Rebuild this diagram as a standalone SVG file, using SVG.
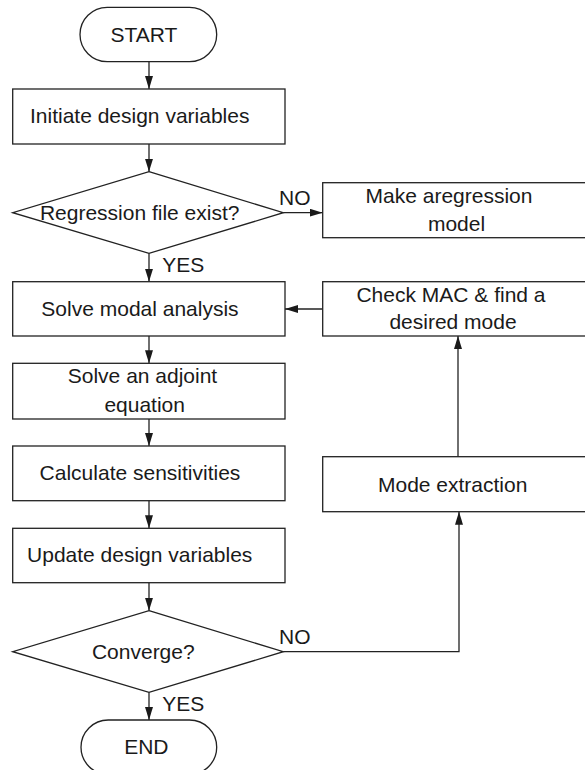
<svg xmlns="http://www.w3.org/2000/svg" width="585" height="770" viewBox="0 0 585 770">
<style>
.s{fill:#fff;stroke:#222;stroke-width:1.3}
.t{font-family:"Liberation Sans",Arial,sans-serif;font-size:21px;fill:#1a1a1a;text-anchor:middle}
.l{font-family:"Liberation Sans",Arial,sans-serif;font-size:21px;fill:#1a1a1a}
.c{fill:none;stroke:#222;stroke-width:1.3}
</style>
<defs>
<marker id="ah" markerWidth="13" markerHeight="8" refX="13" refY="4" orient="auto" markerUnits="userSpaceOnUse">
<path d="M0,0 L13,4 L0,8 Z" fill="#1a1a1a"/>
</marker>
</defs>
<rect width="585" height="770" fill="#fff"/>
<g id="connectors">
<line class="c" x1="149" y1="61.7" x2="149" y2="89" marker-end="url(#ah)"/>
<line class="c" x1="149" y1="144" x2="149" y2="171.7" marker-end="url(#ah)"/>
<line class="c" x1="283.3" y1="212.7" x2="322.7" y2="212.7" marker-end="url(#ah)"/>
<line class="c" x1="149" y1="253.3" x2="149" y2="281.7" marker-end="url(#ah)"/>
<line class="c" x1="322.7" y1="309" x2="285" y2="309" marker-end="url(#ah)"/>
<line class="c" x1="149" y1="336" x2="149" y2="363.3" marker-end="url(#ah)"/>
<line class="c" x1="149" y1="419" x2="149" y2="446" marker-end="url(#ah)"/>
<line class="c" x1="149" y1="500.7" x2="149" y2="528.3" marker-end="url(#ah)"/>
<line class="c" x1="149" y1="582.7" x2="149" y2="610.7" marker-end="url(#ah)"/>
<line class="c" x1="149" y1="692.3" x2="149" y2="720" marker-end="url(#ah)"/>
<polyline class="c" points="283.3,651.7 459,651.7 459,511.7" marker-end="url(#ah)"/>
<line class="c" x1="458" y1="456.7" x2="458" y2="336" marker-end="url(#ah)"/>
<text class="l" x="279" y="205">NO</text>
<text class="l" x="162.3" y="271.7">YES</text>
<text class="l" x="279" y="644">NO</text>
<text class="l" x="162.3" y="710.7">YES</text>
</g>
<g id="start">
<rect class="s" x="80" y="7.3" width="136.7" height="54.4" rx="27.2" ry="27.2"/>
<text class="t" x="144" y="41.7">START</text>
</g>
<g id="init">
<rect class="s" x="12.7" y="89" width="272.3" height="55"/>
<text class="t" x="139.7" y="123">Initiate design variables</text>
</g>
<g id="regression-check">
<polygon class="s" points="149,171.7 283.3,212.7 149,253.3 12.7,212.7"/>
<text class="t" x="139.7" y="220">Regression file exist?</text>
</g>
<g id="make-regression">
<rect class="s" x="322.7" y="182.7" width="270" height="55"/>
<text class="t" x="449" y="202.7">Make aregression</text>
<text class="t" x="456.5" y="230.7">model</text>
</g>
<g id="modal">
<rect class="s" x="12.7" y="281.7" width="272.3" height="54.3"/>
<text class="t" x="140" y="315.7">Solve modal analysis</text>
</g>
<g id="check-mac">
<rect class="s" x="322.7" y="281.7" width="270" height="54.3"/>
<text class="t" x="451" y="301.7">Check MAC &amp; find a</text>
<text class="t" x="453" y="329">desired mode</text>
</g>
<g id="adjoint">
<rect class="s" x="12.7" y="363.3" width="272.3" height="55.7"/>
<text class="t" x="142.5" y="383.3">Solve an adjoint</text>
<text class="t" x="144.7" y="411.7">equation</text>
</g>
<g id="sensitivities">
<rect class="s" x="12.7" y="446" width="272.3" height="54.7"/>
<text class="t" x="140" y="480">Calculate sensitivities</text>
</g>
<g id="mode-extraction">
<rect class="s" x="322.7" y="456.7" width="270" height="55"/>
<text class="t" x="452.7" y="491.7">Mode extraction</text>
</g>
<g id="update">
<rect class="s" x="12.7" y="528.3" width="272.3" height="54.4"/>
<text class="t" x="139.7" y="561.7">Update design variables</text>
</g>
<g id="converge">
<polygon class="s" points="149,610.7 283.3,651.7 149,692.3 12.7,651.7"/>
<text class="t" x="143.3" y="659">Converge?</text>
</g>
<g id="end">
<rect class="s" x="81" y="720" width="135.7" height="54.4" rx="27.2" ry="27.2"/>
<text class="t" x="146.3" y="754.3">END</text>
</g>
</svg>
